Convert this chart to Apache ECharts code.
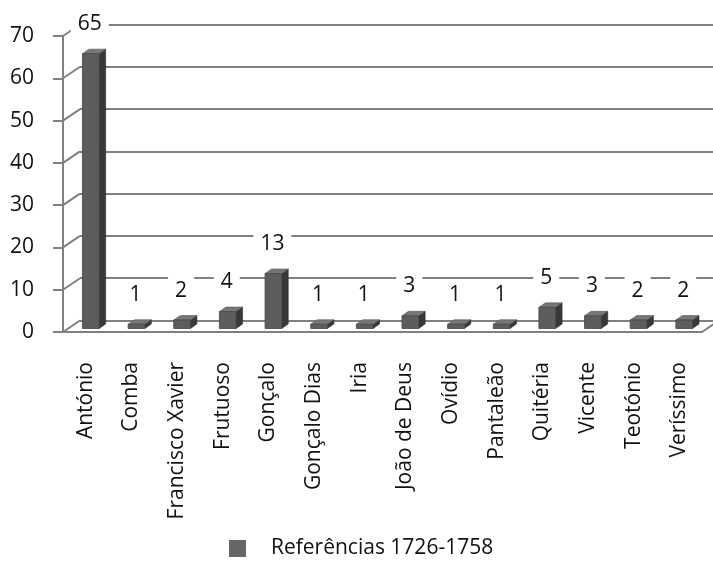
<!DOCTYPE html>
<html>
<head>
<meta charset="utf-8">
<script src="https://cdn.jsdelivr.net/npm/echarts@6/dist/echarts.min.js"></script>
<style>
  html, body { margin: 0; padding: 0; background: #fff; }
  #chart { width: 713px; height: 566px; }
</style>
</head>
<body>
<div id="chart"></div>
<script>
// Saints and the number of references to each, 1726-1758
const categories = ['António', 'Comba', 'Francisco Xavier', 'Frutuoso', 'Gonçalo', 'Gonçalo Dias', 'Iria',
  'João de Deus', 'Ovídio', 'Pantaleão', 'Quitéria', 'Vicente', 'Teotónio', 'Veríssimo'];
const referencias = [65, 1, 2, 4, 13, 1, 1, 3, 1, 1, 5, 3, 2, 2];
const seriesName = 'Referências 1726-1758';
const yTickValues = [0, 10, 20, 30, 40, 50, 60, 70];

// pseudo-3D geometry (pixels)
const WALL_DX = 17, WALL_DY = -11.5;     // depth of the back wall
const BAR_SHIFT_X = 5, BAR_SHIFT_Y = -3.5; // bar front face sits a little inside the floor
const BAR_DX = 6.5, BAR_DY = -4.5;       // bar depth
const BAR_RATIO = 0.365;
const LABEL_DX = 4, LABEL_DY = -33;

const FONT = '"Open Sans", "Noto Sans", sans-serif';
const LINE = '#808080';

const chart = echarts.init(document.getElementById('chart'), null, { renderer: 'canvas' });

function renderBar(params, api) {
  const i = api.value(0), v = api.value(1);
  const top = api.coord([i, v]);
  const base = api.coord([i, 0]);
  const w = api.size([1, 0])[0];
  const fw = w * BAR_RATIO;
  const x0 = top[0] + BAR_SHIFT_X - fw / 2, x1 = x0 + fw;
  const yT = top[1] + BAR_SHIFT_Y, yB = base[1] + BAR_SHIFT_Y;
  return {
    type: 'group',
    children: [
      { type: 'polygon', shape: { points: [[x1, yT], [x1 + BAR_DX, yT + BAR_DY], [x1 + BAR_DX, yB + BAR_DY], [x1, yB]] },
        style: { fill: '#383838', stroke: '#2e2e2e', lineWidth: 0.6 } },
      { type: 'polygon', shape: { points: [[x0, yT], [x0 + BAR_DX, yT + BAR_DY], [x1 + BAR_DX, yT + BAR_DY], [x1, yT]] },
        style: { fill: '#777777', stroke: '#555555', lineWidth: 0.6 } },
      { type: 'rect', shape: { x: x0, y: yT, width: fw, height: yB - yT },
        style: { fill: '#5d5d5d', stroke: '#454545', lineWidth: 0.8 } },
      { type: 'text', x: top[0] + LABEL_DX, y: top[1] + LABEL_DY, z2: 10,
        style: { text: String(v), fill: '#111', font: '21px ' + FONT, align: 'center', verticalAlign: 'middle',
                 backgroundColor: '#ffffff', padding: [5, 7] } }
    ]
  };
}

// short diagonals joining the front axis ticks to the back-wall gridlines, plus the floor's right edge
function renderWallEdges(params, api) {
  const v = api.value(0);
  const cs = params.coordSys;
  const y = api.coord([0, v])[1];
  const children = [
    { type: 'line', shape: { x1: cs.x, y1: y, x2: cs.x + WALL_DX, y2: y + WALL_DY },
      style: { stroke: LINE, lineWidth: 2 } }
  ];
  if (params.dataIndex === 0) {
    const xr = cs.x + cs.width;
    children.push({ type: 'line', shape: { x1: xr, y1: y, x2: xr + WALL_DX, y2: y + WALL_DY },
      style: { stroke: LINE, lineWidth: 2 } });
  }
  return { type: 'group', children };
}

const option = {
  backgroundColor: '#ffffff',
  animation: false,
  legend: {
    data: [{ name: seriesName, icon: 'rect' }],
    left: 229, top: 538, padding: 0,
    itemWidth: 17, itemHeight: 17,
    textStyle: { fontFamily: FONT, fontSize: 21, color: '#111', padding: [0, 0, 0, 20] }
  },
  grid: [
    { left: 63, top: 36, width: 639, height: 296 },
    { left: 63 + WALL_DX, top: 36 + WALL_DY, width: 639, height: 296 }
  ],
  xAxis: [
    { type: 'category', gridIndex: 0, data: categories, boundaryGap: true,
      axisLine: { lineStyle: { color: LINE, width: 2 } },
      axisTick: { length: 7, lineStyle: { color: LINE, width: 2 } },
      axisLabel: { rotate: 90, margin: 30, interval: 0, color: '#111', fontFamily: FONT, fontSize: 21 } },
    { type: 'category', gridIndex: 1, data: categories, show: false }
  ],
  yAxis: [
    { type: 'value', gridIndex: 0, min: 0, max: 70, interval: 10,
      axisLine: { show: true, lineStyle: { color: LINE, width: 2 } },
      axisTick: { show: true, length: 10, lineStyle: { color: LINE, width: 2 } },
      axisLabel: { margin: 29, color: '#111', fontFamily: FONT, fontSize: 21,
                   formatter: (val) => yTickValues.includes(val) ? String(val) : '' },
      splitLine: { show: false } },
    { type: 'value', gridIndex: 1, min: 0, max: 70, interval: 10,
      axisLine: { show: false }, axisTick: { show: false }, axisLabel: { show: false },
      splitLine: { show: true, lineStyle: { color: LINE, width: 2 } } }
  ],
  series: [
    { type: 'custom', name: 'walls', xAxisIndex: 0, yAxisIndex: 0, silent: true,
      renderItem: renderWallEdges, data: yTickValues.map(v => [v]), encode: { y: 0 }, z: 1 },
    { type: 'custom', name: seriesName, xAxisIndex: 0, yAxisIndex: 0,
      itemStyle: { color: '#666666' },
      renderItem: renderBar,
      data: referencias.map((v, i) => [i, v]), encode: { x: 0, y: 1 }, z: 3 }
  ]
};

chart.setOption(option);
</script>
</body>
</html>
